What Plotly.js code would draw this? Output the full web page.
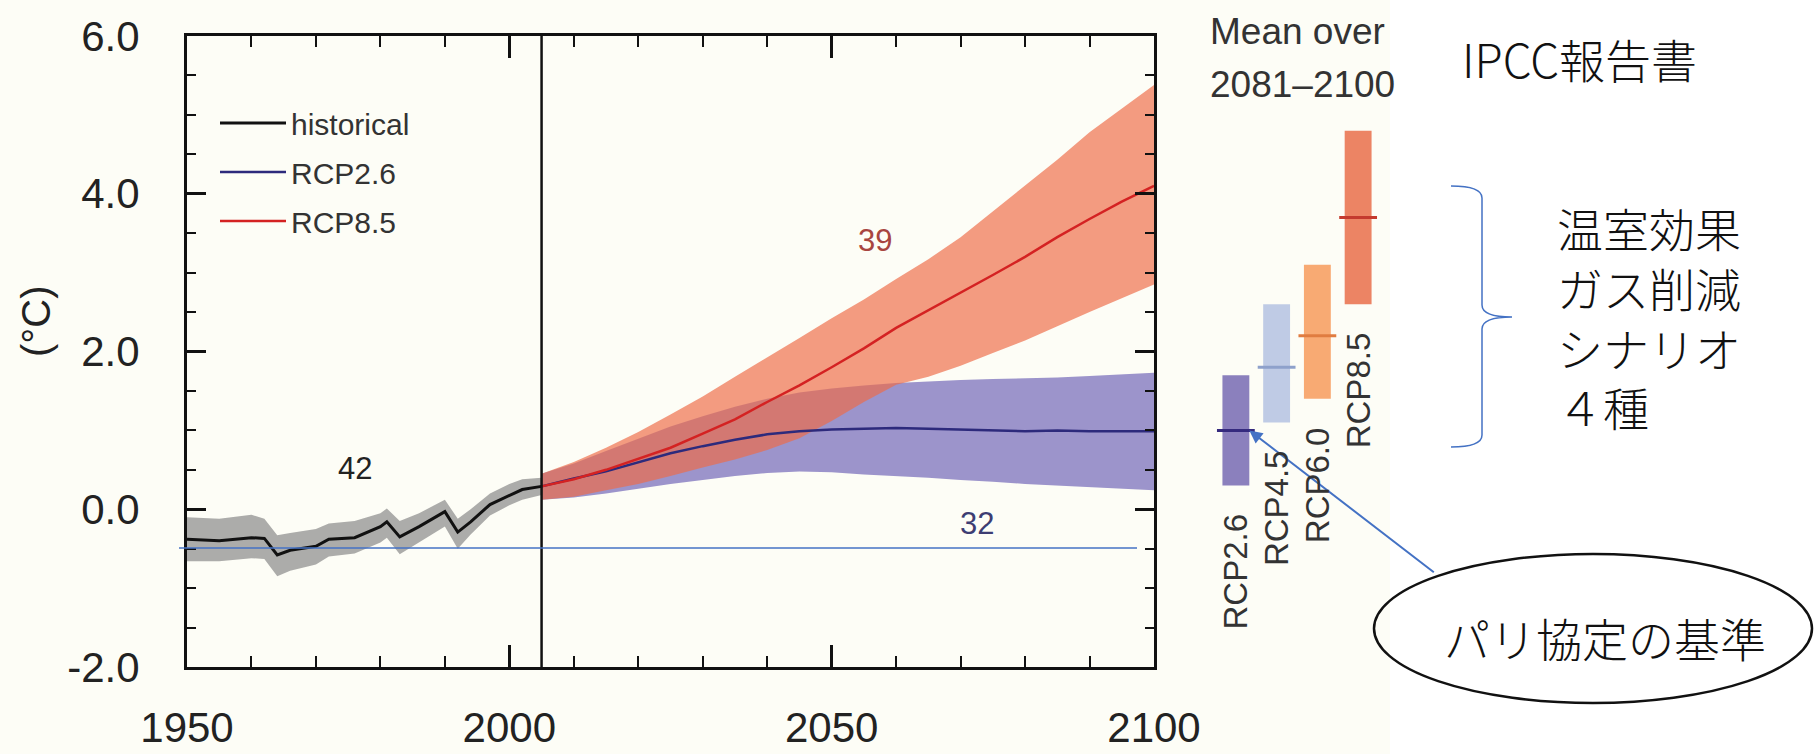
<!DOCTYPE html>
<html><head><meta charset="utf-8">
<script src="https://cdn.plot.ly/plotly-3.0.1.min.js"></script>
<style>html,body{margin:0;padding:0;background:#fff}#chart{width:1814px;height:754px}</style>
</head><body><div id="chart"></div>
<script>
// ---------------- data ----------------
const histYears = [1950,1955,1960,1962,1964,1966,1970,1972,1976,1980,1981,1983,1986,1990,1992,1994,1997,2000,2002,2005];
const histMean  = [-0.38,-0.40,-0.36,-0.37,-0.58,-0.52,-0.47,-0.38,-0.36,-0.22,-0.16,-0.35,-0.22,-0.03,-0.29,-0.16,0.06,0.18,0.25,0.29];
const histUpper = [-0.10,-0.12,-0.07,-0.12,-0.33,-0.30,-0.25,-0.18,-0.15,-0.05,0.01,-0.15,-0.05,0.12,-0.12,0.00,0.20,0.32,0.38,0.40];
const histLower = [-0.66,-0.66,-0.62,-0.63,-0.85,-0.78,-0.70,-0.60,-0.56,-0.42,-0.36,-0.57,-0.42,-0.22,-0.50,-0.32,-0.08,0.05,0.12,0.18];

const rcpYears   = [2005,2010,2015,2020,2025,2030,2035,2040,2045,2050,2055,2060,2065,2070,2075,2080,2085,2090,2095,2100];
const rcp85Mean  = [0.29,0.38,0.50,0.64,0.78,0.96,1.14,1.36,1.57,1.80,2.04,2.30,2.52,2.74,2.97,3.20,3.45,3.68,3.90,4.10];
const rcp85Upper = [0.45,0.60,0.78,0.98,1.20,1.43,1.68,1.92,2.17,2.42,2.66,2.92,3.17,3.45,3.78,4.10,4.43,4.78,5.08,5.38];
const rcp85Lower = [0.12,0.16,0.24,0.32,0.42,0.53,0.63,0.75,0.90,1.12,1.36,1.58,1.68,1.82,1.98,2.14,2.32,2.50,2.68,2.85];
const rcp26Mean  = [0.29,0.39,0.48,0.60,0.71,0.80,0.88,0.95,0.99,1.01,1.02,1.03,1.02,1.01,1.00,0.99,1.00,0.99,0.99,0.99];
const rcp26Upper = [0.45,0.58,0.74,0.90,1.05,1.18,1.30,1.40,1.48,1.53,1.57,1.60,1.62,1.64,1.65,1.66,1.67,1.69,1.71,1.73];
const rcp26Lower = [0.12,0.15,0.20,0.26,0.32,0.37,0.42,0.46,0.48,0.47,0.44,0.42,0.40,0.37,0.35,0.32,0.30,0.28,0.26,0.24];

// mean over 2081-2100
const scenarios = ['RCP2.6','RCP4.5','RCP6.0','RCP8.5'];
const barMean = [1.0,1.8,2.2,3.7];
const barLow  = [0.3,1.1,1.4,2.6];
const barHigh = [1.7,2.6,3.1,4.8];

const modelCounts = ['42','39','32'];
const xTickVals = [1950,2000,2050,2100];
const xTickText = ['1950','2000','2050','2100'];
const yTickVals = [-2,0,2,4,6];
const yTickText = ['-2.0','0.0','2.0','4.0','6.0'];
const scenarioStartYear = 2005;
const parisBaseline = -0.49;

// ---------------- layout helpers ----------------
const W = 1814, H = 754;
const px = x => x / W, py = y => 1 - y / H;
const SANS = "'Liberation Sans',Arial,Helvetica,sans-serif";
const CJK = "'Noto Sans CJK JP','Noto Sans CJK SC',sans-serif";
const BLUE = '#4472c4';

const band = (xs, up, lo) => ({x: xs.concat(xs.slice().reverse()), y: up.concat(lo.slice().reverse())});

const hb = band(histYears, histUpper, histLower);
const b26 = band(rcpYears, rcp26Upper, rcp26Lower);
const b85 = band(rcpYears, rcp85Upper, rcp85Lower);

const traces = [
  {type:'scatter', x:hb.x, y:hb.y, fill:'toself', fillcolor:'rgba(140,140,140,0.72)', line:{width:0}, mode:'lines', showlegend:false, hoverinfo:'skip'},
  {type:'scatter', x:b26.x, y:b26.y, fill:'toself', fillcolor:'rgba(122,110,188,0.74)', line:{width:0}, mode:'lines', showlegend:false, hoverinfo:'skip'},
  {type:'scatter', x:b85.x, y:b85.y, fill:'toself', fillcolor:'rgba(238,108,72,0.68)', line:{width:0}, mode:'lines', showlegend:false, hoverinfo:'skip'},
  {type:'scatter', mode:'lines', name:'RCP2.6', x:rcpYears, y:rcp26Mean, line:{color:'#2d2a7c', width:2.5}, legendrank:2, legendgroup:'b'},
  {type:'scatter', mode:'lines', name:'RCP8.5', x:rcpYears, y:rcp85Mean, line:{color:'#d42222', width:2.5}, legendrank:3, legendgroup:'c'},
  {type:'scatter', mode:'lines', name:'historical', x:histYears, y:histMean, line:{color:'#111111', width:3}, legendrank:1, legendgroup:'a'},
  {type:'bar', x:scenarios, y:barHigh.map((h,i)=>h-barLow[i]), base:barLow, xaxis:'x2', yaxis:'y',
   marker:{color:['#8b80bd','#bfcbe5','#f8aa73','#ec8464'], line:{width:0}}, width:0.66, showlegend:false, hoverinfo:'skip'},
  {type:'scatter', mode:'markers', x:scenarios, y:barMean, xaxis:'x2', yaxis:'y',
   marker:{symbol:'line-ew', size:27, line:{width:3, color:['#352a7e','#8ea1cb','#e07c40','#c43a2e']}}, showlegend:false, hoverinfo:'skip'}
];

const annotations = [
  {xref:'paper', yref:'paper', x:px(36), y:py(321), xanchor:'center', yanchor:'middle', text:'(°C)', textangle:-90, showarrow:false, font:{family:SANS, size:40, color:'#222'}},
  {xref:'x', yref:'y', x:1976, y:0.52, text:modelCounts[0], showarrow:false, font:{family:SANS, size:31, color:'#222'}},
  {xref:'x', yref:'y', x:2056.7, y:3.41, text:modelCounts[1], showarrow:false, font:{family:SANS, size:31, color:'#a84540'}},
  {xref:'x', yref:'y', x:2072.5, y:-0.18, text:modelCounts[2], showarrow:false, font:{family:SANS, size:31, color:'#3d3d73'}},
  {xref:'paper', yref:'paper', x:px(1208), y:py(31), xanchor:'left', yanchor:'middle', text:'Mean over', showarrow:false, font:{family:SANS, size:37, color:'#333'}},
  {xref:'paper', yref:'paper', x:px(1208), y:py(84), xanchor:'left', yanchor:'middle', text:'2081\u20132100', showarrow:false, font:{family:SANS, size:37, color:'#333'}},
  {xref:'paper', yref:'paper', x:px(1460), y:py(58), xanchor:'left', yanchor:'middle', text:'IPCC報告書', showarrow:false, font:{family:CJK, size:46, color:'#111', weight:300}},
  {xref:'paper', yref:'paper', x:px(1555), y:py(316), xanchor:'left', yanchor:'middle', align:'left', text:'温室効果<br>ガス削減<br>シナリオ<br>４種', showarrow:false, font:{family:CJK, size:46, color:'#111', weight:300}},
  {xref:'paper', yref:'paper', x:px(1605), y:py(637), xanchor:'center', yanchor:'middle', text:'パリ協定の基準', showarrow:false, font:{family:CJK, size:46, color:'#111', weight:300}},
  {xref:'x2', yref:'y', x:0.33, y:barMean[0], text:'', showarrow:true, axref:'pixel', ayref:'pixel', ax:186, ay:143,
   arrowcolor:BLUE, arrowwidth:2, arrowhead:2, arrowsize:1.3, standoff:0}
];
scenarios.forEach((s,i)=>{
  annotations.push({xref:'x2', yref:'y', x:i, y:barLow[i], yanchor:'top', xanchor:'center', yshift:-26, text:s, textangle:-90,
    showarrow:false, font:{family:SANS, size:33, color:'#333'}});
});

// curly brace path in pixel coordinates -> paper
const bracePx = [['M',1451,186],['Q',1482,186,1482,198],['L',1482,305],['Q',1482,317,1512,317],['Q',1482,317,1482,329],['L',1482,435],['Q',1482,447,1451,447]];
const bracePath = bracePx.map(seg=>{
  let out = seg[0];
  for(let k=1;k<seg.length;k+=2){ out += (k>1?' ':'') + px(seg[k]).toFixed(5) + ',' + py(seg[k+1]).toFixed(5); }
  return out;
}).join(' ');

const shapes = [
  {type:'rect', xref:'paper', yref:'paper', x0:0, x1:px(1390), y0:0, y1:1, fillcolor:'#fdfdf6', line:{width:0}, layer:'below'},
  {type:'line', xref:'x', yref:'y', x0:scenarioStartYear, x1:scenarioStartYear, y0:-2, y1:6, line:{color:'#111', width:2.5}},
  {type:'line', xref:'paper', yref:'y', x0:px(179), x1:px(1137), y0:parisBaseline, y1:parisBaseline, line:{color:BLUE, width:1.5}},
  {type:'path', xref:'paper', yref:'paper', path:bracePath, line:{color:BLUE, width:1.5}},
  {type:'circle', xref:'paper', yref:'paper', x0:px(1374), x1:px(1812), y0:py(703), y1:py(554), line:{color:'#111', width:2.5}, fillcolor:'rgba(0,0,0,0)'}
];

const axisCommon = {showline:true, linecolor:'#111', linewidth:3, mirror:'ticks', ticks:'inside', tickcolor:'#111', tickwidth:3,
  showgrid:false, zeroline:false, fixedrange:true, tickfont:{family:SANS, size:42, color:'#222'}};

const layout = {
  width:W, height:H, margin:{l:0,r:0,t:0,b:0},
  paper_bgcolor:'#ffffff', plot_bgcolor:'rgba(0,0,0,0)',
  xaxis: Object.assign({}, axisCommon, {range:[1950,2100], domain:[px(187),px(1154)], tickmode:'array', tickvals:xTickVals, ticktext:xTickText,
    ticklen:22, ticklabelstandoff:22,
    minor:{tickmode:'linear', tick0:1950, dtick:10, ticks:'inside', ticklen:11, tickwidth:2, tickcolor:'#111', showgrid:false}}),
  yaxis: Object.assign({}, axisCommon, {range:[-2,6], domain:[py(667),py(36)], tickmode:'array', tickvals:yTickVals, ticktext:yTickText,
    ticklen:19, ticklabelstandoff:36,
    minor:{tickmode:'linear', tick0:-2, dtick:0.5, ticks:'inside', ticklen:9, tickwidth:2, tickcolor:'#111', showgrid:false}}),
  xaxis2: {domain:[px(1215.5),px(1378.5)], anchor:'y', type:'category', range:[-0.5,3.5], visible:false, fixedrange:true},
  showlegend:true,
  legend:{x:px(215), y:py(97), xanchor:'left', yanchor:'top', bgcolor:'rgba(0,0,0,0)', font:{family:SANS, size:30, color:'#333'},
    tracegroupgap:7, itemwidth:66},
  annotations: annotations,
  shapes: shapes
};

Plotly.newPlot('chart', traces, layout, {displayModeBar:false, staticPlot:true});
</script>
</body></html>
